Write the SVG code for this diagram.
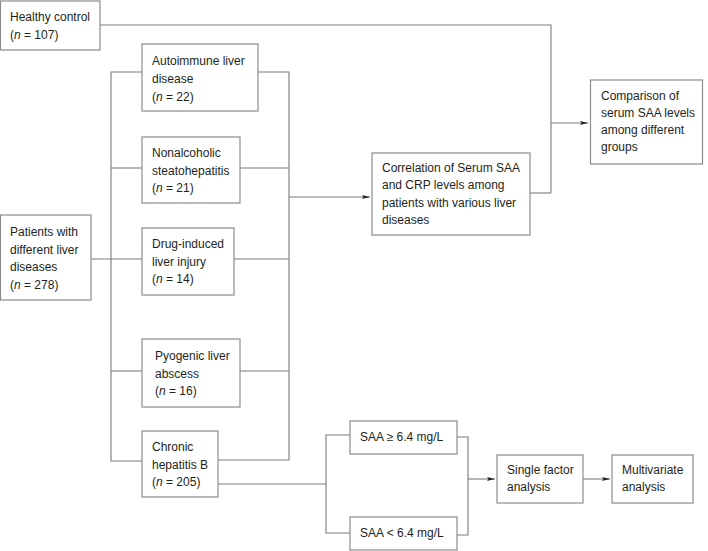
<svg xmlns="http://www.w3.org/2000/svg" width="708" height="551" viewBox="0 0 708 551">
<style>
.box{fill:#fff;stroke:#8c8c8c;stroke-width:1.2}
.ln{fill:none;stroke:#7a7a7a;stroke-width:1.1}
text{font-family:"Liberation Sans",Arial,sans-serif;font-size:12px;fill:#231f20}
.i{font-style:italic}
</style>
<defs>
<marker id="ah" markerWidth="8" markerHeight="6" refX="8" refY="3" orient="auto" markerUnits="userSpaceOnUse">
<path d="M0,1 L8,3 L0,5 L1.5,3 Z" fill="#222"/>
</marker>
</defs>
<g id="connectors">
<path class="ln" d="M100,25 H551 V193"/>
<path class="ln" d="M530,193 H551"/>
<path class="ln" d="M551,123 H588" marker-end="url(#ah)"/>
<path class="ln" d="M142,72 H111 V461 H142"/>
<path class="ln" d="M142,168 H111"/>
<path class="ln" d="M91,259 H142"/>
<path class="ln" d="M142,371 H111"/>
<path class="ln" d="M258,72 H289 V460 H218"/>
<path class="ln" d="M240,168 H289"/>
<path class="ln" d="M234,259 H289"/>
<path class="ln" d="M240,371 H289"/>
<path class="ln" d="M289,197 H370" marker-end="url(#ah)"/>
<path class="ln" d="M218,484 H326"/>
<path class="ln" d="M350,435 H326 V533 H350"/>
<path class="ln" d="M457,437 H468 V535 H457"/>
<path class="ln" d="M468,479 H495" marker-end="url(#ah)"/>
<path class="ln" d="M583,479 H610" marker-end="url(#ah)"/>
</g>
<g id="healthy">
<rect class="box" x="0.5" y="1" width="99.5" height="49"/>
<text x="10" y="21">Healthy control</text>
<text x="10" y="39">(<tspan class="i">n</tspan> = 107)</text>
</g>
<g id="patients">
<rect class="box" x="0.5" y="215" width="90.5" height="85"/>
<text x="10" y="236">Patients with</text>
<text x="10" y="254">different liver</text>
<text x="10" y="271">diseases</text>
<text x="10" y="289">(<tspan class="i">n</tspan> = 278)</text>
</g>
<g id="autoimmune">
<rect class="box" x="142" y="44" width="116" height="67"/>
<text x="152" y="65">Autoimmune liver</text>
<text x="152" y="83">disease</text>
<text x="152" y="101">(<tspan class="i">n</tspan> = 22)</text>
</g>
<g id="nash">
<rect class="box" x="142" y="137" width="98" height="66"/>
<text x="152" y="157">Nonalcoholic</text>
<text x="152" y="175">steatohepatitis</text>
<text x="152" y="192">(<tspan class="i">n</tspan> = 21)</text>
</g>
<g id="dili">
<rect class="box" x="142" y="228" width="92" height="67"/>
<text x="152" y="248">Drug-induced</text>
<text x="152" y="266">liver injury</text>
<text x="152" y="283">(<tspan class="i">n</tspan> = 14)</text>
</g>
<g id="pyogenic">
<rect class="box" x="142" y="339" width="98" height="68"/>
<text x="155" y="360">Pyogenic liver</text>
<text x="155" y="378">abscess</text>
<text x="155" y="395">(<tspan class="i">n</tspan> = 16)</text>
</g>
<g id="chb">
<rect class="box" x="142" y="431" width="76" height="66"/>
<text x="152" y="451">Chronic</text>
<text x="152" y="469">hepatitis B</text>
<text x="152" y="486">(<tspan class="i">n</tspan> = 205)</text>
</g>
<g id="correlation">
<rect class="box" x="372" y="153" width="158" height="82"/>
<text x="382" y="172">Correlation of Serum SAA</text>
<text x="382" y="189">and CRP levels among</text>
<text x="382" y="207">patients with various liver</text>
<text x="382" y="224">diseases</text>
</g>
<g id="comparison">
<rect class="box" x="590.5" y="80" width="112" height="84"/>
<text x="601" y="100">Comparison of</text>
<text x="601" y="117">serum SAA levels</text>
<text x="601" y="134">among different</text>
<text x="601" y="151">groups</text>
</g>
<g id="saa-high">
<rect class="box" x="350" y="421" width="107" height="33"/>
<text x="360" y="441">SAA ≥ 6.4 mg/L</text>
</g>
<g id="saa-low">
<rect class="box" x="350" y="517" width="107" height="33"/>
<text x="360" y="537">SAA &lt; 6.4 mg/L</text>
</g>
<g id="single">
<rect class="box" x="497" y="455" width="86" height="48"/>
<text x="507" y="474">Single factor</text>
<text x="507" y="491">analysis</text>
</g>
<g id="multi">
<rect class="box" x="612" y="455" width="81" height="48"/>
<text x="622" y="474">Multivariate</text>
<text x="622" y="491">analysis</text>
</g>
</svg>
